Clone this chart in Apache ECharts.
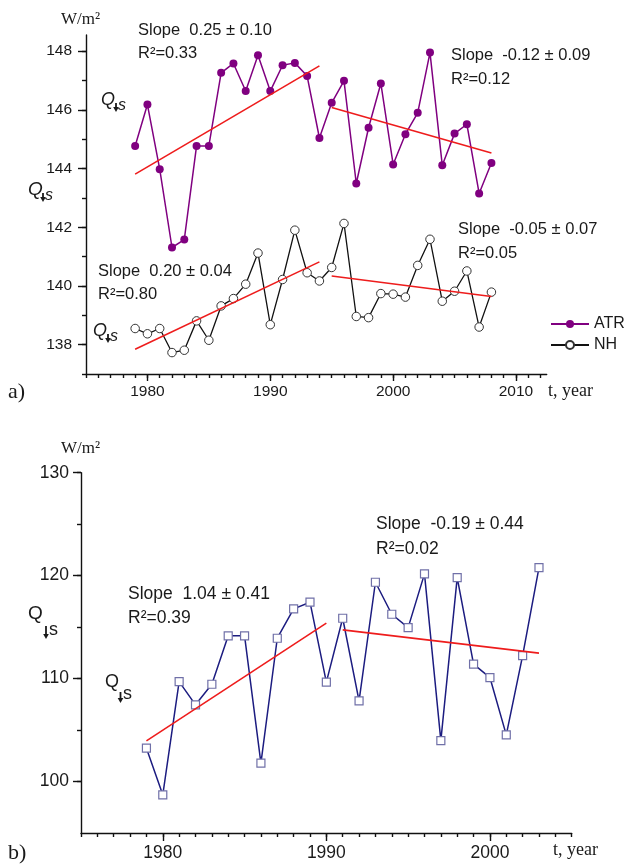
<!DOCTYPE html>
<html><head><meta charset="utf-8">
<script src="https://cdn.jsdelivr.net/npm/echarts@6/dist/echarts.min.js"></script>
<style>html,body{margin:0;padding:0;background:#fff}#c{width:625px;height:866px}</style>
</head><body><div id="c"></div>
<script>
// ---------- data: panel a ----------
const yearsA = [1979,1980,1981,1982,1983,1984,1985,1986,1987,1988,1989,1990,1991,1992,1993,1994,1995,1996,1997,1998,1999,2000,2001,2002,2003,2004,2005,2006,2007,2008];
const atr = [144.77,146.18,143.98,141.31,141.58,144.77,144.77,147.26,147.58,146.64,147.86,146.64,147.52,147.60,147.15,145.04,146.24,146.99,143.49,145.39,146.90,144.14,145.17,145.90,147.95,144.11,145.19,145.51,143.15,144.19];
const nh  = [138.55,138.37,138.55,137.73,137.81,138.81,138.15,139.32,139.57,140.06,141.12,138.68,140.22,141.90,140.45,140.17,140.63,142.13,138.96,138.92,139.74,139.72,139.62,140.70,141.59,139.48,139.82,140.51,138.60,139.79];
const atrFit1Years = [1979,1994], atrFit1 = [143.81,147.50];
const atrFit2Years = [1995,2008], atrFit2 = [146.08,144.53];
const nhFit1Years  = [1979,1994], nhFit1  = [137.84,140.82];
const nhFit2Years  = [1995,2008], nhFit2  = [140.34,139.64];
const xTicksA = [1975,1976,1977,1978,1979,1980,1981,1982,1983,1984,1985,1986,1987,1988,1989,1990,1991,1992,1993,1994,1995,1996,1997,1998,1999,2000,2001,2002,2003,2004,2005,2006,2007,2008,2009,2010,2011,2012];
const xLabelsA = [1980,1990,2000,2010];
const yTicksA = [137,138,139,140,141,142,143,144,145,146,147,148];
const yLabelsA = [138,140,142,144,146,148];

// ---------- data: panel b ----------
const yearsB = [1979,1980,1981,1982,1983,1984,1985,1986,1987,1988,1989,1990,1991,1992,1993,1994,1995,1996,1997,1998,1999,2000,2001,2002,2003];
const qsB = [103.24,98.71,109.71,107.45,109.45,114.15,114.15,101.79,113.92,116.77,117.42,109.65,115.86,107.83,119.36,116.25,114.95,120.17,103.98,119.81,111.40,110.10,104.53,112.23,120.78];
const bFit1Years = [1979,1990], bFit1 = [103.95,115.38];
const bFit2Years = [1991,2003], bFit2 = [114.73,112.47];
const xTicksB = [1975,1976,1977,1978,1979,1980,1981,1982,1983,1984,1985,1986,1987,1988,1989,1990,1991,1992,1993,1994,1995,1996,1997,1998,1999,2000,2001,2002,2003,2004,2005];
const xLabelsB = [1980,1990,2000];
const yTicksB = [100,105,110,115,120,125,130];
const yLabelsB = [100,110,120,130];

const zip = (xs, ys) => xs.map((x, i) => [x, ys[i]]);

const SANS = '"Liberation Sans", Arial, sans-serif';
const SERIF = '"Liberation Serif", "Times New Roman", serif';
const TXT = '#1a1a1a';
const RED = '#ee1c1c';
const AX = {color: '#111', width: 1.4};
const plain = v => String(v);

function mainX(grid, min, max, ticks, labels, fs, margin) {
  return {type: 'value', gridIndex: grid, position: 'bottom', min, max,
    axisLine: {show: true, onZero: false, lineStyle: AX},
    axisTick: {show: true, customValues: ticks, length: 4, inside: false, lineStyle: AX},
    axisLabel: {show: true, customValues: labels, formatter: plain, fontSize: fs, fontFamily: SANS, color: TXT, margin},
    splitLine: {show: false}};
}
function majorX(grid, min, max, labels, len) {
  return {type: 'value', gridIndex: grid, position: 'bottom', min, max,
    axisLine: {show: false, onZero: false},
    axisTick: {show: true, customValues: labels, length: len, lineStyle: AX},
    axisLabel: {show: false}, splitLine: {show: false}};
}
function mainY(grid, min, max, ticks, labels, fs, margin) {
  return {type: 'value', gridIndex: grid, position: 'left', min, max,
    axisLine: {show: true, onZero: false, lineStyle: AX},
    axisTick: {show: true, customValues: ticks, length: 4, lineStyle: AX},
    axisLabel: {show: true, customValues: labels, formatter: plain, fontSize: fs, fontFamily: SANS, color: TXT, margin},
    splitLine: {show: false}};
}
function majorY(grid, min, max, labels, len) {
  return {type: 'value', gridIndex: grid, position: 'left', min, max,
    axisLine: {show: false, onZero: false},
    axisTick: {show: true, customValues: labels, length: len, lineStyle: AX},
    axisLabel: {show: false}, splitLine: {show: false}};
}
function fit(name, xi, yi, xs, ys) {
  return {name, type: 'line', xAxisIndex: xi, yAxisIndex: yi, data: zip(xs, ys),
    symbol: 'none', lineStyle: {color: RED, width: 1.6}, z: 5, silent: true};
}
function t(x, y, text, font, extra) {
  return Object.assign({type: 'text', x, y, z: 10,
    style: Object.assign({text, font, fill: TXT, verticalAlign: 'middle', textVerticalAlign: 'middle'}, extra || {})});
}
// small bold down-arrow glyph used in the "Q↓s" symbol
function arrow(cx, top, bottom) {
  return {type: 'group', z: 10, children: [
    {type: 'rect', shape: {x: cx - 0.9, y: top, width: 1.8, height: bottom - top - 4}, style: {fill: TXT}},
    {type: 'polygon', shape: {points: [[cx - 2.8, bottom - 5], [cx + 2.8, bottom - 5], [cx, bottom]]}, style: {fill: TXT}}
  ]};
}
function qs(x, y, italic, size, sSize, arrowDx, arrowTop, arrowBot, sDx, sDy) {
  const st = italic ? 'italic ' : '';
  return [
    t(x, y, 'Q', st + size + 'px ' + SANS),
    arrow(x + arrowDx, y + arrowTop, y + arrowBot),
    t(x + sDx, y + sDy, 's', st + sSize + 'px ' + SANS)
  ];
}

const chart = echarts.init(document.getElementById('c'), null, {renderer: 'canvas'});
chart.setOption({
  animation: false,
  backgroundColor: '#fff',
  grid: [
    {left: 86, right: 78.3, top: 35, bottom: 492, containLabel: false, outerBoundsMode: 'none'},
    {left: 81, right: 53.3, top: 472.7, bottom: 33, containLabel: false, outerBoundsMode: 'none'}
  ],
  xAxis: [
    mainX(0, 1975, 2012.5, xTicksA, xLabelsA, 15.5, 10),
    majorX(0, 1975, 2012.5, xLabelsA, 7),
    mainX(1, 1975, 2005, xTicksB, xLabelsB, 17.5, 11),
    majorX(1, 1975, 2005, xLabelsB, 8)
  ],
  yAxis: [
    mainY(0, 137, 148.55, yTicksA, yLabelsA, 15.5, 14),
    majorY(0, 137, 148.55, yLabelsA, 8),
    mainY(1, 95, 130, yTicksB, yLabelsB, 17.5, 12),
    majorY(1, 95, 130, yLabelsB, 8)
  ],
  legend: {
    orient: 'vertical', left: 545, top: 311, itemWidth: 38, itemHeight: 10, itemGap: 5,
    data: ['ATR', 'NH'],
    textStyle: {fontSize: 16, fontFamily: SANS, color: TXT}
  },
  series: [
    {name: 'ATR', type: 'line', xAxisIndex: 0, yAxisIndex: 0, data: zip(yearsA, atr),
      symbol: 'circle', symbolSize: 8, showAllSymbol: true,
      lineStyle: {color: '#800080', width: 1.5}, itemStyle: {color: '#800080'}},
    {name: 'NH', type: 'line', xAxisIndex: 0, yAxisIndex: 0, data: zip(yearsA, nh),
      symbol: 'circle', symbolSize: 8.5, showAllSymbol: true,
      lineStyle: {color: '#111', width: 1.3}, itemStyle: {color: '#fff', borderColor: '#333', borderWidth: 1}},
    fit('fitA1', 0, 0, atrFit1Years, atrFit1),
    fit('fitA2', 0, 0, atrFit2Years, atrFit2),
    fit('fitN1', 0, 0, nhFit1Years, nhFit1),
    fit('fitN2', 0, 0, nhFit2Years, nhFit2),
    {name: 'Qs', type: 'line', xAxisIndex: 2, yAxisIndex: 2, data: zip(yearsB, qsB),
      symbol: 'rect', symbolSize: 8, showAllSymbol: true,
      lineStyle: {color: '#1c1c80', width: 1.5}, itemStyle: {color: '#fff', borderColor: '#7070a8', borderWidth: 1.2}, z: 3},
    fit('fitB1', 2, 2, bFit1Years, bFit1),
    fit('fitB2', 2, 2, bFit2Years, bFit2)
  ],
  graphic: [
    // panel a
    t(61, 20, 'W/m\u00B2', '17px ' + SERIF),
    t(548, 391, 't, year', '18px ' + SERIF),
    t(8, 392, 'a)', '22px ' + SERIF),
    t(138, 30, 'Slope  0.25 \u00B1 0.10', '16.5px ' + SANS),
    t(138, 53, 'R\u00B2=0.33', '16.5px ' + SANS),
    t(451, 55, 'Slope  -0.12 \u00B1 0.09', '16.5px ' + SANS),
    t(451, 79, 'R\u00B2=0.12', '16.5px ' + SANS),
    t(98, 271, 'Slope  0.20 \u00B1 0.04', '16.5px ' + SANS),
    t(98, 294, 'R\u00B2=0.80', '16.5px ' + SANS),
    t(458, 229, 'Slope  -0.05 \u00B1 0.07', '16.5px ' + SANS),
    t(458, 253, 'R\u00B2=0.05', '16.5px ' + SANS),
    ...qs(28, 190, true, 19, 16, 15, 3, 12, 17, 6),
    ...qs(101, 100, true, 18, 16, 15, 3, 12, 17, 6),
    ...qs(93, 331, true, 18, 16, 15, 3, 12, 17, 6),
    // panel b
    t(61, 449, 'W/m\u00B2', '17px ' + SERIF),
    t(553, 850, 't, year', '18px ' + SERIF),
    t(8, 853, 'b)', '22px ' + SERIF),
    t(128, 594, 'Slope  1.04 \u00B1 0.41', '17.5px ' + SANS),
    t(128, 618, 'R\u00B2=0.39', '17.5px ' + SANS),
    t(376, 524, 'Slope  -0.19 \u00B1 0.44', '17.5px ' + SANS),
    t(376, 549, 'R\u00B2=0.02', '17.5px ' + SANS),
    ...qs(28, 614, false, 19, 18, 18, 12, 25, 21, 16),
    ...qs(105, 682, false, 18, 18, 15.5, 10, 21, 18, 12)
  ]
});
</script>
</body></html>
